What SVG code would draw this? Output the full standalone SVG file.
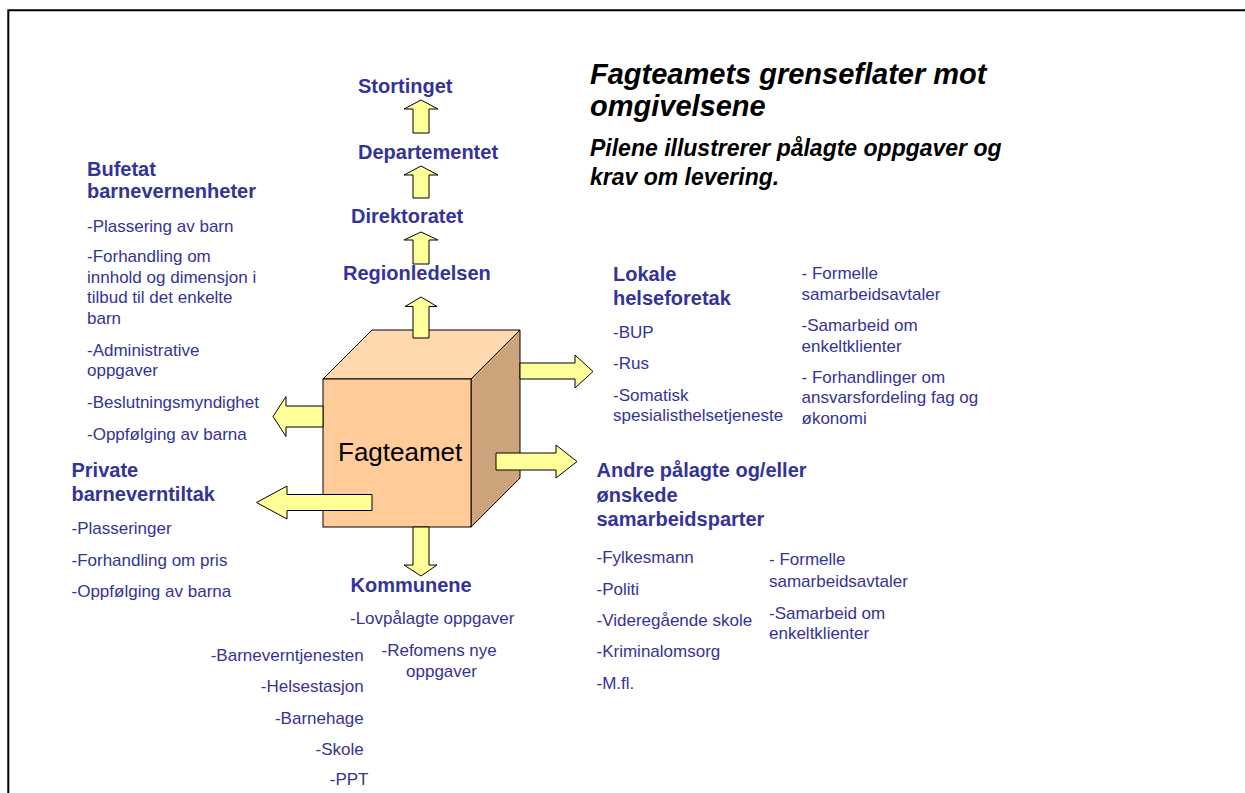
<svg xmlns="http://www.w3.org/2000/svg" width="1245" height="793" viewBox="0 0 1245 793">
  <style>
    .h { font-family: "Liberation Sans", Arial, sans-serif; font-weight: bold; font-size: 20px; fill: #333399; }
    .t { font-family: "Liberation Sans", Arial, sans-serif; font-size: 17px; fill: #333399; }
    .title { font-family: "Liberation Sans", Arial, sans-serif; font-weight: bold; font-style: italic; fill: #000; }
    .arrow { fill: #FFFF99; stroke: #000; stroke-width: 1; stroke-linejoin: miter; }
    .face { stroke: #000; stroke-width: 1; stroke-linejoin: miter; }
  </style>

  <rect width="1245" height="793" fill="#fff"/>
  <!-- frame -->
  <path d="M8.3,793 V10.3 H1245" fill="none" stroke="#000" stroke-width="2"/>

  <!-- heading -->
  <g id="title">
    <text class="title" font-size="29" x="590" y="84">Fagteamets grenseflater mot</text>
    <text class="title" font-size="29" x="590" y="116">omgivelsene</text>
    <text class="title" font-size="23" x="590" y="156">Pilene illustrerer pålagte oppgaver og</text>
    <text class="title" font-size="23" x="590" y="185">krav om levering.</text>
  </g>

  <!-- central cube -->
  <g id="fagteamet">
    <polygon class="face" points="323,379 372,330 520,330 471,379" fill="#FFD8B0"/>
    <polygon class="face" points="471,379 520,330 520,478 471,527" fill="#CCA37A"/>
    <rect class="face" x="323" y="379" width="148" height="148" fill="#FFCC99"/>
    <text x="338" y="461" font-family="Liberation Sans, Arial, sans-serif" font-size="26" fill="#000">Fagteamet</text>
  </g>

  <!-- block arrows -->
  <g id="connectors">
    <path class="arrow" d="M421,100 L438,109 L429,109 L429,133 L413,133 L413,109 L404,109 Z"/>
    <path class="arrow" d="M421,166 L438,175 L429,175 L429,198 L413,198 L413,175 L404,175 Z"/>
    <path class="arrow" d="M421,232 L438,240 L429,240 L429,264 L413,264 L413,240 L404,240 Z"/>
    <path class="arrow" d="M421,297 L437,306.5 L429,306.5 L429,338 L413,338 L413,306.5 L405,306.5 Z"/>
    <path class="arrow" d="M421,576 L437,565 L429,565 L429,527 L413,527 L413,565 L404,565 Z"/>
    <path class="arrow" d="M593,371.5 L575,388 L575,379 L520,379 L520,363 L575,363 L575,355 Z"/>
    <path class="arrow" d="M577,461.5 L556,478 L556,470 L496,470 L496,453 L556,453 L556,445 Z"/>
    <path class="arrow" d="M273,416.5 L286,396.5 L286,406 L323,406 L323,427 L286,427 L286,436.5 Z"/>
    <path class="arrow" d="M256.5,502.5 L287,486 L287,494.5 L372,494.5 L372,510.5 L287,510.5 L287,519 Z"/>
  </g>

  <!-- management chain -->
  <g id="stortinget"><text class="h" x="358" y="93">Stortinget</text></g>
  <g id="departementet"><text class="h" x="358" y="159">Departementet</text></g>
  <g id="direktoratet"><text class="h" x="351" y="223">Direktoratet</text></g>
  <g id="regionledelsen"><text class="h" x="343" y="280">Regionledelsen</text></g>

  <!-- Bufetat -->
  <g id="bufetat">
    <text class="h" x="87" y="176">Bufetat</text>
    <text class="h" x="87" y="198">barnevernenheter</text>
    <text class="t" x="87">
      <tspan x="87" y="231.5">-Plassering av barn</tspan>
      <tspan x="87" y="262">-Forhandling om</tspan>
      <tspan x="87" y="282.5">innhold og dimensjon i</tspan>
      <tspan x="87" y="303">tilbud til det enkelte</tspan>
      <tspan x="87" y="323.5">barn</tspan>
      <tspan x="87" y="355.5">-Administrative</tspan>
      <tspan x="87" y="376">oppgaver</tspan>
      <tspan x="87" y="408">-Beslutningsmyndighet</tspan>
      <tspan x="87" y="440">-Oppfølging av barna</tspan>
    </text>
  </g>

  <!-- private providers -->
  <g id="private">
    <text class="h" x="71.5" y="477">Private</text>
    <text class="h" x="71.5" y="500.5">barneverntiltak</text>
    <text class="t">
      <tspan x="71.5" y="534">-Plasseringer</tspan>
      <tspan x="71.5" y="565.5">-Forhandling om pris</tspan>
      <tspan x="71.5" y="597">-Oppfølging av barna</tspan>
    </text>
  </g>

  <!-- local health trusts -->
  <g id="helseforetak">
    <text class="h" x="613" y="281">Lokale</text>
    <text class="h" x="613" y="305">helseforetak</text>
    <text class="t">
      <tspan x="613" y="337.5">-BUP</tspan>
      <tspan x="613" y="369">-Rus</tspan>
      <tspan x="613" y="400.5">-Somatisk</tspan>
      <tspan x="613" y="420.5">spesialisthelsetjeneste</tspan>
    </text>
    <text class="t">
      <tspan x="801.5" y="278.5">- Formelle</tspan>
      <tspan x="801.5" y="299.5">samarbeidsavtaler</tspan>
      <tspan x="801.5" y="331">-Samarbeid om</tspan>
      <tspan x="801.5" y="351.5">enkeltklienter</tspan>
      <tspan x="801.5" y="382.5">- Forhandlinger om</tspan>
      <tspan x="801.5" y="403">ansvarsfordeling fag og</tspan>
      <tspan x="801.5" y="423.5">økonomi</tspan>
    </text>
  </g>

  <!-- other partners -->
  <g id="andre">
    <text class="h" x="596.5" y="477">Andre pålagte og/eller</text>
    <text class="h" x="596.5" y="501.5">ønskede</text>
    <text class="h" x="596.5" y="526">samarbeidsparter</text>
    <text class="t">
      <tspan x="596.5" y="563">-Fylkesmann</tspan>
      <tspan x="596.5" y="594.5">-Politi</tspan>
      <tspan x="596.5" y="626">-Videregående skole</tspan>
      <tspan x="596.5" y="657">-Kriminalomsorg</tspan>
      <tspan x="596.5" y="688.5">-M.fl.</tspan>
    </text>
    <text class="t">
      <tspan x="769" y="565">- Formelle</tspan>
      <tspan x="769" y="586.5">samarbeidsavtaler</tspan>
      <tspan x="769" y="618.5">-Samarbeid om</tspan>
      <tspan x="769" y="638.5">enkeltklienter</tspan>
    </text>
  </g>

  <!-- municipalities -->
  <g id="kommunene">
    <text class="h" x="350.5" y="592">Kommunene</text>
    <text class="t" x="350" y="624">-Lovpålagte oppgaver</text>
    <text class="t" text-anchor="middle">
      <tspan x="441.5" y="656">-Refomens nye</tspan>
      <tspan x="441.5" y="677">oppgaver</tspan>
    </text>
    <text class="t" text-anchor="end">
      <tspan x="368.5" y="661">-Barneverntjenesten</tspan>
      <tspan x="368.5" y="692">-Helsestasjon</tspan>
      <tspan x="368.5" y="723.5">-Barnehage</tspan>
      <tspan x="368.5" y="754.5">-Skole</tspan>
      <tspan x="368.5" y="785">-PPT</tspan>
    </text>
  </g>
</svg>
